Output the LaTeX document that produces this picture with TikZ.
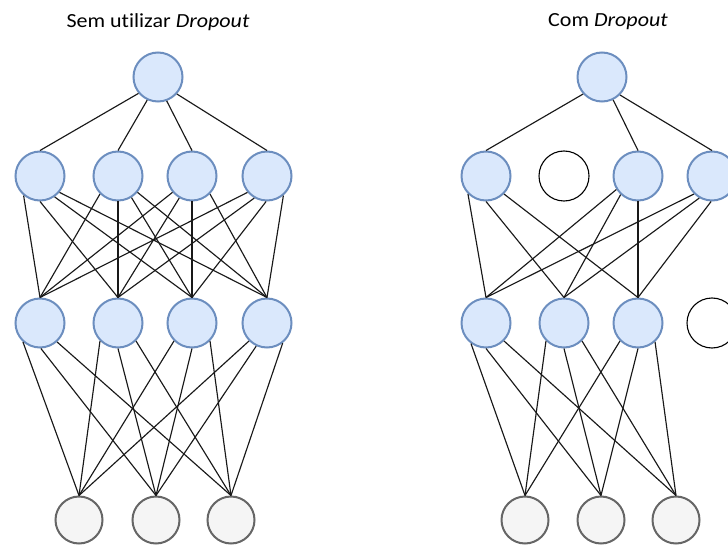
\documentclass[tikz,border=0pt]{standalone}
\usepackage{fontspec}
\setmainfont{Carlito}[Ligatures=NoCommon]
\definecolor{unitfill}{HTML}{DAE8FC}
\definecolor{unitdraw}{HTML}{6C8EBF}
\definecolor{outfill}{HTML}{F5F5F5}
\definecolor{outdraw}{HTML}{666666}
\tikzset{
  unit/.style={circle, minimum size=49pt, inner sep=0pt, line width=2pt, draw=unitdraw, fill=unitfill},
  outunit/.style={circle, minimum size=47pt, inner sep=0pt, line width=2pt, draw=outdraw, fill=outfill},
  dropped/.style={circle, minimum size=50pt, inner sep=0pt, line width=1.1pt, draw=black, fill=white},
  link/.style={line width=1.15pt, draw=black!90},
  title/.style={font=\fontsize{20}{24}\selectfont, inner sep=0pt}
}
\begin{document}
\begin{tikzpicture}[x=1pt, y=-1pt]
  \useasboundingbox (0,0) rectangle (728,548);

  % ---- network without dropout ----
  \node[title] (tA) at (158,22) {\scalebox{1.1}[1]{Sem utilizar \textit{Dropout}}};
  \node[unit] (a0) at (158,77) {};
  \foreach \i/\x in {1/40, 2/118, 3/192, 4/267} {
    \node[unit] (a1\i) at (\x,176) {};
    \node[unit] (a2\i) at (\x,323) {};
  }
  \foreach \i/\x in {1/79, 2/156, 3/231}
    \node[outunit] (a3\i) at (\x,520) {};

  % ---- network with dropout ----
  \node[title] (tB) at (608,22) {\scalebox{1.1}[1]{Com \textit{Dropout}}};
  \node[unit] (b0) at (602,77) {};
  \node[unit]    (b11) at (486,176) {};
  \node[dropped] (b12) at (564,176) {};
  \node[unit]    (b13) at (638,176) {};
  \node[unit]    (b14) at (712,176) {};
  \node[unit]    (b21) at (486,323) {};
  \node[unit]    (b22) at (564,323) {};
  \node[unit]    (b23) at (638,323) {};
  \node[dropped] (b24) at (712,323) {};
  \foreach \i/\x in {1/525, 2/601, 3/676}
    \node[outunit] (b3\i) at (\x,520) {};

  % ---- connections: from a point on the lower rim of the upper unit
  %      (given by its angle) to the top of the lower unit ----
  \foreach \j/\a in {1/220, 2/245, 3/290, 4/318}
    \draw[link] (a0.\a) -- (a1\j.north);
  \foreach \i/\j/\a in {1/1/230, 1/2/270, 1/3/305, 1/4/320,
                        2/1/225, 2/2/270, 2/3/302, 2/4/320,
                        3/1/220, 3/2/240, 3/3/270, 3/4/315,
                        4/1/220, 4/2/240, 4/3/268, 4/4/310}
    \draw[link] (a1\i.\a) -- (a2\j.north);
  \foreach \i/\j/\a in {1/1/228, 1/2/272, 1/3/312,
                        2/1/225, 2/2/270, 2/3/315,
                        3/1/225, 3/2/270, 3/3/315,
                        4/1/225, 4/2/245, 4/3/308}
    \draw[link] (a2\i.\a) -- (a3\j.north);

  \foreach \j/\a in {1/222, 3/296, 4/315}
    \draw[link] (b0.\a) -- (b1\j.north);
  \foreach \i/\j/\a in {1/1/225, 1/2/270, 1/3/315,
                        3/1/212, 3/2/227, 3/3/270,
                        4/1/225, 4/2/240, 4/3/268}
    \draw[link] (b1\i.\a) -- (b2\j.north);
  \foreach \i/\j/\a in {1/1/234, 1/2/270, 1/3/315,
                        2/1/225, 2/2/270, 2/3/315,
                        3/1/225, 3/2/270, 3/3/312}
    \draw[link] (b2\i.\a) -- (b3\j.north);
\end{tikzpicture}
\end{document}
